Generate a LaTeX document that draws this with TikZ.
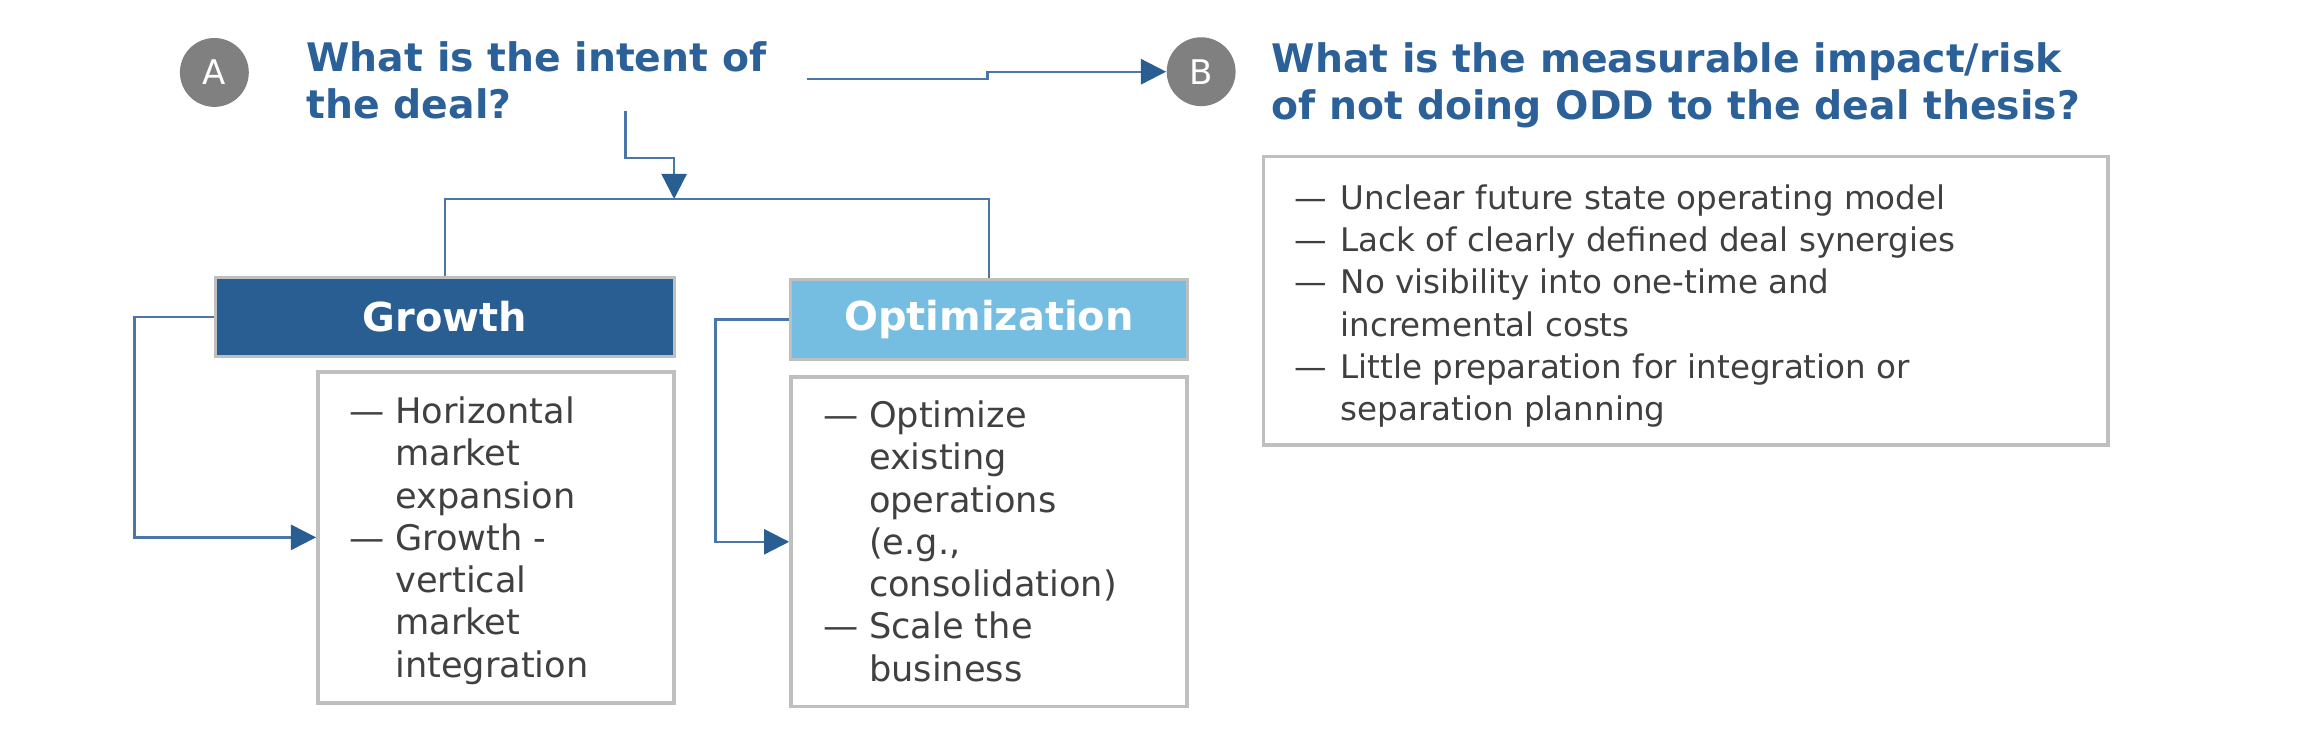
\documentclass[tikz,border=0pt]{standalone}
\usepackage{fontspec}
\setmainfont{DejaVu Sans}
\usetikzlibrary{arrows.meta}
\definecolor{titleblue}{RGB}{43,97,152}
\definecolor{growthblue}{RGB}{41,94,146}
\definecolor{optblue}{RGB}{117,190,226}
\definecolor{linkblue}{RGB}{74,118,170}
\definecolor{boxgray}{RGB}{191,191,191}
\definecolor{txtgray}{RGB}{64,64,64}
\definecolor{badgegray}{RGB}{128,128,128}
\newcommand{\dashitem}{\makebox[15.5pt][l]{—}}
\newcommand{\dashpad}{\hspace*{15.5pt}}

\begin{document}
\begin{tikzpicture}[x=0.5pt,y=-0.5pt,
  badge/.style={circle,fill=badgegray,minimum size=23.3pt,inner sep=0pt,text=white,font=\fontsize{11.5pt}{13pt}\selectfont},
  question/.style={anchor=north west,inner sep=0pt,align=left,text=titleblue,font=\fontsize{13.3pt}{15.7pt}\selectfont\bfseries},
  hdr/.style={draw=boxgray,line width=1pt,inner sep=0pt,text=white,font=\fontsize{13.5pt}{16pt}\selectfont\bfseries},
  listbox/.style={draw=boxgray,line width=1.2pt,fill=white,inner sep=0pt},
  listtext/.style={anchor=north west,inner sep=0pt,align=left,text=txtgray,font=\fontsize{11pt}{14.3pt}\selectfont},
  widetext/.style={listtext,font=\fontsize{11.9pt}{14.3pt}\selectfont},
  conn/.style={draw=linkblue,line width=0.8pt},
  tip/.style={-{Triangle[length=8.5pt,width=8.5pt,color=growthblue]}}]
\useasboundingbox (0,0) rectangle (1568,498);

% questions
\node[badge] (circA) at (145,49) {A};
\node[question] (titleA) at (207,28) {What is the intent of\\the deal?};
\node[badge] (circB) at (812.5,48.5) {B};
\node[question] (titleB) at (860,28.5) {What is the measurable impact/risk\\of not doing ODD to the deal thesis?};

% intent branches
\node[hdr,fill=growthblue,minimum width=155pt,minimum height=26.5pt] (growth) at (301,214.5) {Growth};
\node[hdr,fill=optblue,minimum width=134pt,minimum height=27pt] (optim) at (669,216) {Optimization};
\node[listbox,minimum width=120.5pt,minimum height=112pt] (glist) at (335.5,363.5) {};
\node[listbox,minimum width=134pt,minimum height=111.5pt] (olist) at (669,366.5) {};
\node[listbox,minimum width=285.7pt,minimum height=97.5pt] (blist) at (1140.3,203.5) {};

\node[widetext] (gtxt) at (236,268) {\dashitem Horizontal\\ \dashpad market\\ \dashpad expansion\\
  \dashitem Growth -\\ \dashpad vertical\\ \dashpad market\\ \dashpad integration};
\node[widetext] (otxt) at (556.5,270.7) {\dashitem Optimize\\ \dashpad existing\\ \dashpad operations\\
  \dashpad (e.g.,\\ \dashpad consolidation)\\ \dashitem Scale the\\ \dashpad business};
\node[listtext] (btxt) at (875.5,124.5) {\dashitem Unclear future state operating model\\
  \dashitem Lack of clearly defined deal synergies\\ \dashitem No visibility into one-time and\\
  \dashpad incremental costs\\ \dashitem Little preparation for integration or\\ \dashpad separation planning};

% connectors
\coordinate (qA) at (546,53.5);
\coordinate (qDown) at (423,75);
\coordinate (bar) at (456,134.6);
\draw[conn,tip] (qA) -- ++(122,0) |- (circB.west);
\draw[conn,tip] (qDown) -- ++(0,32) -| (bar);
\draw[conn] (growth.north) -- (growth.north |- bar) -| (optim.north);
\draw[conn,tip] (growth.west) -- ++(-54,0) |- (glist.west);
\draw[conn,tip] (optim.west) -- ++(-50,0) |- (olist.west);
\end{tikzpicture}
\end{document}
